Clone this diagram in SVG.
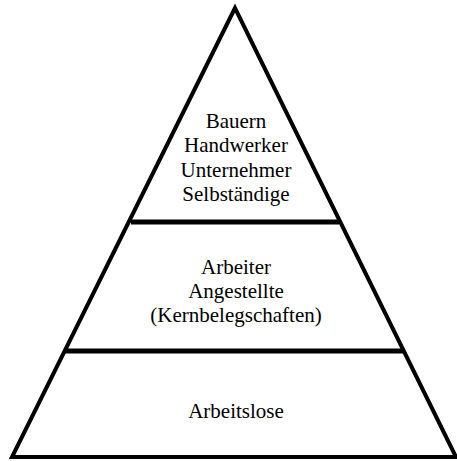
<svg xmlns="http://www.w3.org/2000/svg" width="457" height="461" viewBox="0 0 457 461">
  <style>
    .outline { fill: none; stroke: #000; stroke-width: 4; stroke-linejoin: miter; }
    .divider { stroke: #000; stroke-width: 5; }
    .label { font-size: 21px; fill: #000; text-anchor: middle; }
  </style>
  <rect width="457" height="461" fill="#fff"/>
  <g id="connectors">
    <polygon class="outline" points="235,8 12,457 456,457"/>
    <line class="divider" x1="131" y1="222" x2="339" y2="222"/>
    <line class="divider" x1="65" y1="351" x2="404" y2="351"/>
  </g>
  <g font-family="Liberation Serif, DejaVu Serif, serif">
    <g id="tier-top">
      <text class="label" x="236" y="128">Bauern</text>
      <text class="label" x="236" y="152">Handwerker</text>
      <text class="label" x="236" y="177">Unternehmer</text>
      <text class="label" x="236" y="201">Selbständige</text>
    </g>
    <g id="tier-middle">
      <text class="label" x="236" y="274">Arbeiter</text>
      <text class="label" x="236" y="298">Angestellte</text>
      <text class="label" x="236" y="322">(Kernbelegschaften)</text>
    </g>
    <g id="tier-bottom">
      <text class="label" x="236" y="418">Arbeitslose</text>
    </g>
  </g>
</svg>
